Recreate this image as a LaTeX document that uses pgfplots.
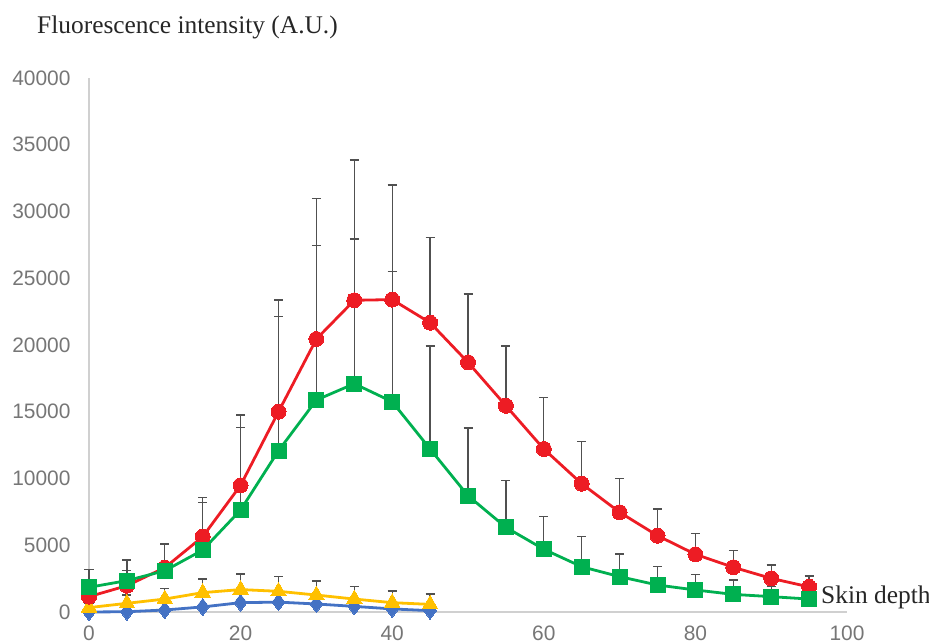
\documentclass[border=0pt]{standalone}
\usepackage{pgfplots}
\pgfplotsset{compat=1.18}
\usepackage{fontspec}
\setmainfont{Liberation Sans}
\newfontfamily\seriffont{Liberation Serif}
\definecolor{cred}{RGB}{237,28,36}
\definecolor{cgreen}{RGB}{0,176,80}
\definecolor{cyellow}{RGB}{255,192,0}
\definecolor{cblue}{RGB}{68,114,196}
\definecolor{tickgray}{RGB}{118,118,118}
\definecolor{axgray}{RGB}{208,208,208}
\definecolor{errgray}{RGB}{80,80,80}
\begin{document}
\begin{tikzpicture}
\useasboundingbox (0,0) rectangle (929bp,644bp);
\begin{axis}[
  at={(89bp,32bp)}, anchor=south west,
  scale only axis, width=758bp, height=534bp,
  xmin=0, xmax=100, ymin=0, ymax=40000,
  clip=false,
  axis x line=bottom, axis y line=left,
  axis line style={draw=axgray, line width=1.5bp, -},
  major tick length=0pt,
  xtick={0,20,...,100}, ytick={0,5000,...,40000},
  scaled y ticks=false,
  /pgf/number format/1000 sep={},
  /pgf/number format/assume math mode=true,
  tick label style={font=\fontsize{21}{25}\selectfont, text=tickgray},
  yticklabel style={xshift=-15bp},
  xticklabel style={yshift=-10bp},
  error bars/y dir=plus, error bars/y explicit,
  error bars/error bar style={draw=errgray, line width=1.3bp},
  error bars/error mark options={rotate=90, mark size=4.5bp, line width=1.3bp, draw=errgray},
]
% blue
\addplot[color=cblue, line width=2.8bp, mark=diamond*, mark size=8.5bp, mark options={fill=cblue, draw=cblue, line width=0pt}, forget plot, error bars/y dir=none] coordinates {
(0,0) (5,20) (10,150) (15,380) (20,700) (25,740) (30,600) (35,420) (40,230) (45,100)};
% yellow
\addplot[color=cyellow, line width=2.8bp, mark=triangle*, mark size=9bp, mark options={fill=cyellow, draw=cyellow, line width=0pt}] coordinates {
(0,330) +- (0,300)
(5,650) +- (0,620)
(10,970) +- (0,800)
(15,1450) +- (0,1020)
(20,1680) +- (0,1170)
(25,1550) +- (0,1100)
(30,1270) +- (0,1050)
(35,970) +- (0,930)
(40,700) +- (0,870)
(45,570) +- (0,780)};
% red
\addplot[color=cred, line width=2.8bp, mark=*, mark size=7.5bp, mark options={fill=cred, draw=cred, line width=0pt}] coordinates {
(0,1150) +- (0,1050)
(5,1970) +- (0,1130)
(10,3320) +- (0,1820)
(15,5640) +- (0,2920)
(20,9490) +- (0,5270)
(25,15000) +- (0,8370)
(30,20450) +- (0,10510)
(35,23350) +- (0,10510)
(40,23400) +- (0,8580)
(45,21670) +- (0,6370)
(50,18700) +- (0,5120)
(55,15450) +- (0,4470)
(60,12210) +- (0,3840)
(65,9610) +- (0,3150)
(70,7470) +- (0,2540)
(75,5720) +- (0,1990)
(80,4320) +- (0,1570)
(85,3350) +- (0,1240)
(90,2520) +- (0,1000)
(95,1880) +- (0,820)};
% green
\addplot[color=cgreen, line width=2.8bp, mark=square*, mark size=7.5bp, mark options={fill=cgreen, draw=cgreen, line width=0pt}] coordinates {
(0,1850) +- (0,1350)
(5,2350) +- (0,1550)
(10,3090) +- (0,2010)
(15,4640) +- (0,3570)
(20,7640) +- (0,6170)
(25,12080) +- (0,10040)
(30,15880) +- (0,11590)
(35,17100) +- (0,10840)
(40,15750) +- (0,9740)
(45,12210) +- (0,7710)
(50,8710) +- (0,5070)
(55,6340) +- (0,3500)
(60,4700) +- (0,2440)
(65,3390) +- (0,2250)
(70,2650) +- (0,1690)
(75,2020) +- (0,1370)
(80,1650) +- (0,1150)
(85,1320) +- (0,1080)
(90,1150) +- (0,750)
(95,970) +- (0,300)};
\end{axis}
\node[anchor=base west, inner sep=0pt, font=\seriffont\fontsize{25.5}{30}\selectfont, text=black!85] at (37bp,610bp) {Fluorescence intensity (A.U.)};
\node[anchor=base west, inner sep=0pt, font=\seriffont\fontsize{25.5}{30}\selectfont, text=black!85] at (821bp,40bp) {Skin depth};
\end{tikzpicture}
\end{document}
